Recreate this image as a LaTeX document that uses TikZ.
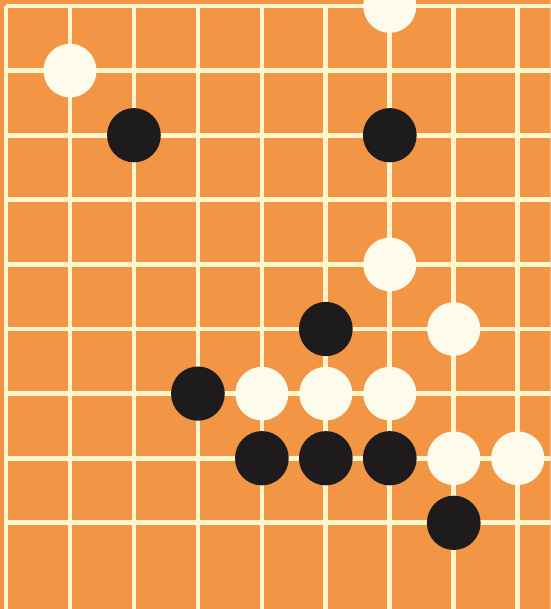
\documentclass[tikz,border=0pt]{standalone}
\usepackage{xcolor}
\usepackage{tikz}
\definecolor{boardorange}{RGB}{242,150,70}
\definecolor{gridcream}{RGB}{255,246,206}
\definecolor{stonewhite}{RGB}{253,251,236}
\definecolor{stoneblack}{RGB}{30,27,28}

\begin{document}
\begin{tikzpicture}[
    x=1cm, y=-1.01cm,
    gridline/.style={draw=gridcream, line width=2.1pt},
    whitestone/.style={fill=stonewhite},
    blackstone/.style={fill=stoneblack}
]
    % Khung ảnh và nền bàn cờ
    \useasboundingbox (-0.094,-0.093) rectangle (8.516,9.334);
    \clip (-0.094,-0.093) rectangle (8.516,9.334);
    \fill[boardorange] (-0.094,-0.093) rectangle (8.516,9.334);

    % Lưới: đường ngang và đường dọc
    \foreach \j in {0,...,8}
        \draw[gridline] (0,\j) -- (8.6,\j);
    \foreach \i in {0,...,8}
        \draw[gridline] (\i,0) -- (\i,9.4);

    % Quân trắng
    \foreach \i/\j in {1/1, 6/0, 6/4, 7/5, 4/6, 5/6, 6/6, 7/7, 8/7}
        \fill[whitestone] (\i,\j) circle (0.415);

    % Quân đen
    \foreach \i/\j in {2/2, 6/2, 5/5, 3/6, 4/7, 5/7, 6/7, 7/8}
        \fill[blackstone] (\i,\j) circle (0.42);
\end{tikzpicture}
\end{document}
